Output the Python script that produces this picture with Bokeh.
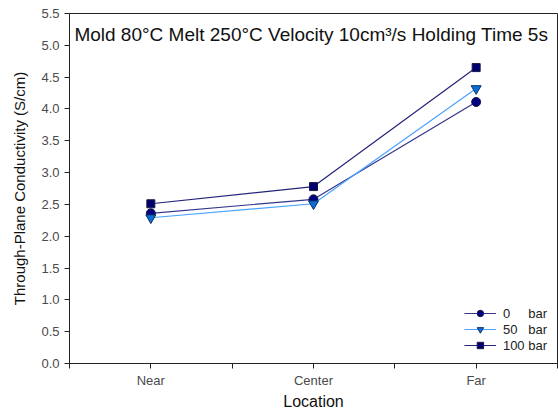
from bokeh.plotting import figure
from bokeh.models import Range1d, FixedTicker, Legend, LegendItem, Label
from bokeh.embed import file_html
from bokeh.resources import INLINE

# Through-plane conductivity by location for three holding pressures
locations = ["Near", "Center", "Far"]
loc_pos = [1, 2, 3]
cond_0bar = [2.36, 2.58, 4.11]
cond_50bar = [2.29, 2.51, 4.32]
cond_100bar = [2.51, 2.78, 4.65]
y_ticks = [0.0, 0.5, 1.0, 1.5, 2.0, 2.5, 3.0, 3.5, 4.0, 4.5, 5.0, 5.5]

FONT = "Liberation Sans"

p = figure(width=558, height=414, output_backend="svg", toolbar_location=None,
           x_range=Range1d(0.5, 3.5), y_range=Range1d(0, 5.5),
           min_border_left=69, min_border_right=1, min_border_top=13,
           min_border_bottom=51)
p.grid.visible = False
p.outline_line_color = "#222222"
p.outline_line_width = 1
p.background_fill_color = "white"
p.border_fill_color = "white"

# x axis: category names at 1,2,3 with separator ticks in between
p.xaxis.ticker = FixedTicker(ticks=[0.5, 1, 1.5, 2, 2.5, 3, 3.5])
p.xaxis.major_label_overrides = {0.5: "", 1: locations[0], 1.5: "", 2: locations[1],
                                 2.5: "", 3: locations[2], 3.5: ""}
p.xaxis.minor_tick_line_color = None
p.xaxis.axis_label = "Location"

p.yaxis.ticker = FixedTicker(ticks=y_ticks)
p.yaxis.major_label_overrides = {t: f"{t:.1f}" for t in y_ticks}
p.yaxis.minor_tick_line_color = None
p.yaxis.axis_label = "Through-Plane Conductivity (S/cm)"

for ax in (p.xaxis[0], p.yaxis[0]):
    ax.axis_line_color = "#222222"
    ax.major_tick_line_color = "#222222"
    ax.major_tick_out = 5
    ax.major_tick_in = 0
    ax.major_label_text_font = FONT
    ax.major_label_text_font_size = "13px"
    ax.major_label_text_color = "#4a4a4a"
    ax.axis_label_text_font = FONT
    ax.axis_label_text_font_style = "normal"
    ax.axis_label_text_color = "#111111"
p.xaxis.axis_label_text_font_size = "16px"
p.yaxis.axis_label_text_font_size = "15px"
p.xaxis.major_label_standoff = 4
p.xaxis.axis_label_standoff = 2
p.yaxis.major_label_standoff = 5
p.yaxis.axis_label_standoff = 10

# series
l0 = p.line(loc_pos, cond_0bar, line_color="#35358c", line_width=1.2)
s0 = p.scatter(loc_pos, cond_0bar, marker="circle", size=9,
               fill_color="#000080", line_color="#1a1a40")
l50 = p.line(loc_pos, cond_50bar, line_color="#4aa3ff", line_width=1.2)
s50 = p.scatter(loc_pos, cond_50bar, marker="inverted_triangle", size=10,
                fill_color="#0a6fd6", line_color="#0b2e66")
l100 = p.line(loc_pos, cond_100bar, line_color="#24247a", line_width=1.2)
s100 = p.scatter(loc_pos, cond_100bar, marker="square", size=8,
                 fill_color="#000070", line_color="#1a1a40")

nb = "\u00a0"
legend = Legend(items=[
    LegendItem(label="0" + nb * 5 + "bar", renderers=[l0, s0]),
    LegendItem(label="50" + nb * 3 + "bar", renderers=[l50, s50]),
    LegendItem(label="100" + nb + "bar", renderers=[l100, s100]),
], location="bottom_right")
legend.border_line_color = None
legend.background_fill_alpha = 0
legend.label_text_font = FONT
legend.label_text_font_size = "13px"
legend.label_text_color = "#222222"
legend.glyph_width = 32
legend.glyph_height = 16
legend.label_height = 16
legend.spacing = 0
legend.label_standoff = 7
legend.padding = 5
legend.margin = 10
p.add_layout(legend)

title = Label(x=0.53, y=5.17, text="Mold 80°C Melt 250°C Velocity 10cm³/s Holding Time 5s",
              text_font=FONT, text_font_size="19px", text_color="#111111",
              text_baseline="alphabetic", text_align="left")
p.add_layout(title)

open("out.html", "w").write(file_html(p, INLINE))
